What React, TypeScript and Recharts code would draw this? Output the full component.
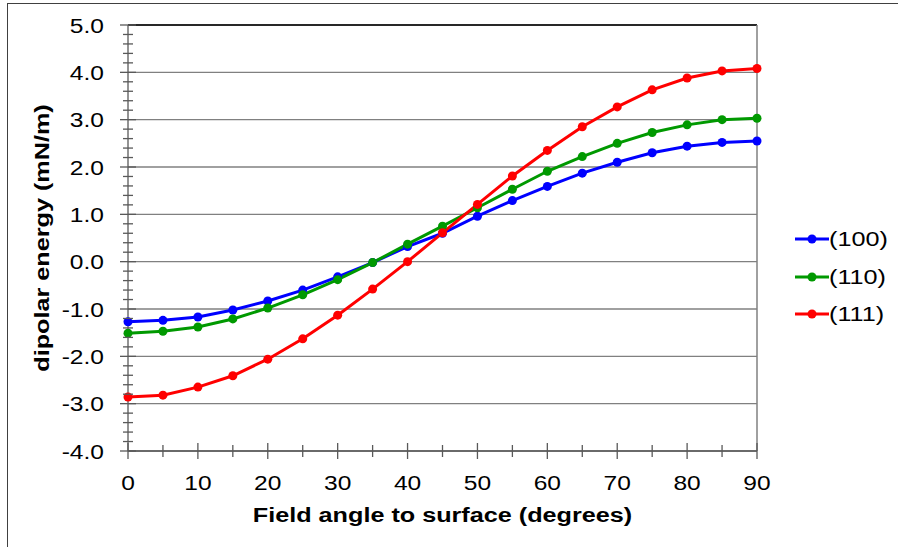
import React from 'react';
import { LineChart, Line, XAxis, YAxis, CartesianGrid, ReferenceLine, Legend, Label } from 'recharts';

const angles = [0, 5, 10, 15, 20, 25, 30, 35, 40, 45, 50, 55, 60, 65, 70, 75, 80, 85, 90];
const s100 = [-1.27, -1.24, -1.17, -1.02, -0.83, -0.6, -0.32, -0.02, 0.32, 0.6, 0.96, 1.29, 1.59, 1.87, 2.1, 2.3, 2.44, 2.52, 2.55];
const s110 = [-1.51, -1.47, -1.38, -1.21, -0.98, -0.7, -0.38, -0.02, 0.37, 0.75, 1.14, 1.53, 1.91, 2.22, 2.5, 2.73, 2.89, 3.0, 3.03];
const s111 = [-2.86, -2.82, -2.65, -2.41, -2.06, -1.63, -1.13, -0.58, 0.0, 0.61, 1.21, 1.81, 2.35, 2.85, 3.27, 3.63, 3.88, 4.03, 4.08];

const xAll = [0, 5, 10, 15, 20, 25, 30, 35, 40, 45, 50, 55, 60, 65, 70, 75, 80, 85, 90];
const yMajor = [-4, -3, -2, -1, 0, 1, 2, 3, 4, 5];
const yAll = yMajor.flatMap((v, i) => (i === 0 ? [v] : [v - 0.8, v - 0.6, v - 0.4, v - 0.2, v])).map((v) => Math.round(v * 10) / 10);

const series = [
  { key: 'a', name: '(100)', color: '#0000ff' },
  { key: 'b', name: '(110)', color: '#009900' },
  { key: 'c', name: '(111)', color: '#ff0000' },
];

const data = angles.map((angle, i) => ({ angle, a: s100[i], b: s110[i], c: s111[i] }));

const FONT = '"Liberation Sans", Arial, sans-serif';
const AXIS = '#595959';
const GRID = '#808080';
const SX = 1.2; // the reference font runs wider than Liberation Sans

// text stretched along its own direction
const SText = ({ x, y, anchor = 'start', rotate = 0, bold = false, sx = SX, children }: any) => (
  <g transform={`translate(${x}, ${y}) rotate(${rotate}) scale(${sx}, 1)`}>
    <text x={0} y={0} textAnchor={anchor} fontSize={21} fontWeight={bold ? 'bold' : 'normal'} fontFamily={FONT} fill="#000">
      {children}
    </text>
  </g>
);

const YTick = (props: any) => {
  const { x, y, payload } = props;
  const major = Number.isInteger(Math.round(payload.value * 10) / 10);
  return (
    <g>
      <line x1={major ? x - 8 : x - 5} x2={major ? x + 8 : x + 5} y1={y} y2={y} stroke={AXIS} strokeWidth={1.3} />
      {major && (
        <SText x={x - 24} y={y + 7.5} anchor="end" sx={1.17}>
          {payload.value.toFixed(1)}
        </SText>
      )}
    </g>
  );
};

const XTick = (props: any) => {
  const { x, y, payload } = props;
  const major = payload.value % 10 === 0;
  return (
    <g>
      <line x1={x} x2={x} y1={major ? y - 8 : y - 6} y2={major ? y + 8 : y + 6} stroke={AXIS} strokeWidth={1.3} />
      {major && (
        <SText x={x} y={y + 39} anchor="middle" sx={1.17}>
          {payload.value}
        </SText>
      )}
    </g>
  );
};

const LegendBox = () => (
  <div style={{ fontFamily: FONT, fontSize: 21 }}>
    {series.map((s) => (
      <div key={s.key} style={{ display: 'flex', alignItems: 'center', height: 37.7 }}>
        <svg width={34} height={12} style={{ flex: 'none' }}>
          <line x1={0} x2={34} y1={6} y2={6} stroke={s.color} strokeWidth={3} />
          <circle cx={17} cy={6} r={4.5} fill={s.color} />
        </svg>
        <span style={{ display: 'inline-block', transform: `scaleX(${SX})`, transformOrigin: 'left center', whiteSpace: 'nowrap' }}>{s.name}</span>
      </div>
    ))}
  </div>
);

export default function App() {
  return (
    <div style={{ position: 'absolute', left: 0, top: 0, width: 898, height: 547, background: '#fff', overflow: 'hidden' }}>
      <div style={{ position: 'absolute', left: 7, top: 3, width: 1000, height: 1000, borderLeft: '1.5px solid #404040', borderTop: '1.5px solid #404040' }} />
      <div style={{ position: 'absolute', left: 0, top: 0 }}>
        <LineChart width={898} height={547} data={data} margin={{ top: 25, right: 141, bottom: 0, left: 0 }}>
          <CartesianGrid vertical={false} horizontalValues={yMajor} stroke={GRID} strokeWidth={1.3} />
          <XAxis
            dataKey="angle"
            type="number"
            domain={[0, 90]}
            ticks={xAll}
            interval={0}
            height={96}
            tickSize={0}
            tickMargin={0}
            tick={<XTick />}
            stroke={AXIS}
            strokeWidth={1.3}
          >
            <Label
              content={(p: any) => {
                const vb = p.viewBox;
                return (
                  <SText x={vb.x + vb.width / 2} y={vb.y + 71} anchor="middle" bold>
                    Field angle to surface (degrees)
                  </SText>
                );
              }}
            />
          </XAxis>
          <YAxis
            type="number"
            domain={[-4, 5]}
            ticks={yAll}
            interval={0}
            width={128}
            tickSize={0}
            tickMargin={0}
            tick={<YTick />}
            stroke={AXIS}
            strokeWidth={1.3}
          >
            <Label
              content={(p: any) => {
                const vb = p.viewBox;
                return (
                  <SText x={49} y={vb.y + vb.height / 2} anchor="middle" rotate={-90} bold>
                    dipolar energy (mN/m)
                  </SText>
                );
              }}
            />
          </YAxis>
          <ReferenceLine y={5} stroke="#000" strokeWidth={1.5} />
          <ReferenceLine x={90} stroke={GRID} strokeWidth={1.5} />
          {series.map((s) => (
            <Line
              key={s.key}
              dataKey={s.key}
              name={s.name}
              type="linear"
              stroke={s.color}
              strokeWidth={3}
              dot={{ r: 4.5, fill: s.color, stroke: s.color, strokeWidth: 0 }}
              isAnimationActive={false}
            />
          ))}
          <Legend
            layout="horizontal"
            verticalAlign="middle"
            align="center"
            content={<LegendBox />}
            wrapperStyle={{ left: 795, top: 220, width: 100, bottom: 'auto', right: 'auto' }}
          />
        </LineChart>
      </div>
    </div>
  );
}
